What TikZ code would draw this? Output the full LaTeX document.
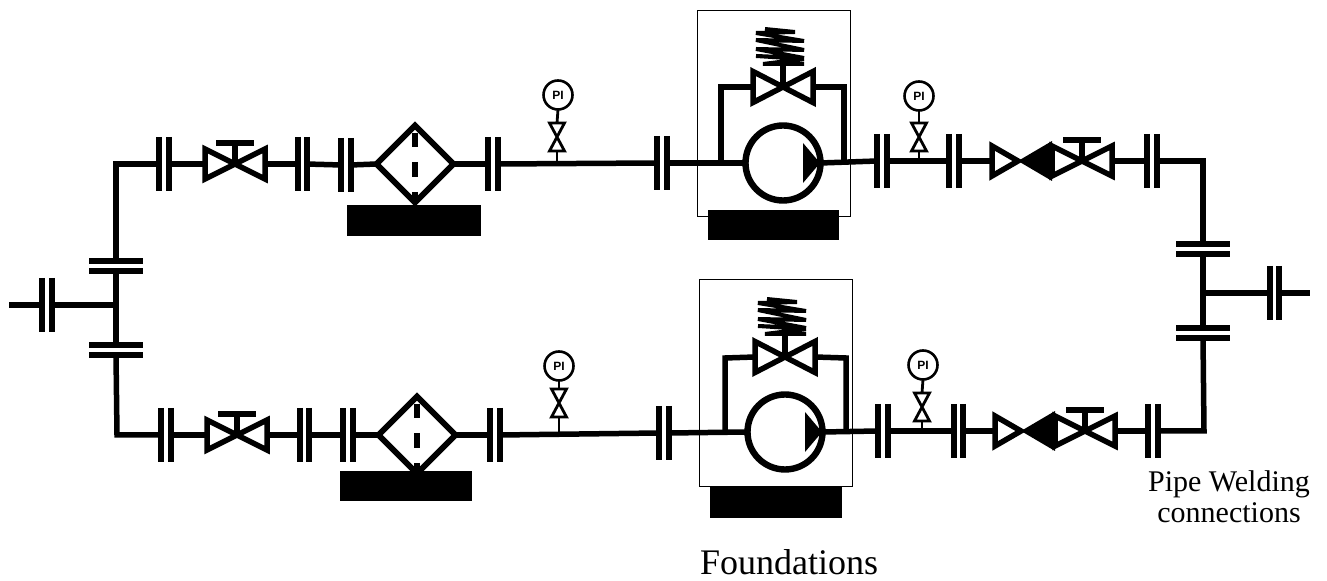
\documentclass[tikz,border=0pt]{standalone}
\usepackage{fontspec}
\setmainfont{Liberation Serif}
\setsansfont{Liberation Sans}
\tikzset{
	pipe/.style={line width=2.75pt},
	tap/.style={line width=1.4pt},
	bar/.style={line width=3pt},
	flange/.pic={
		\draw[bar] (-5,-27) -- (-5,27);
		\draw[bar] (5,-27) -- (5,27);
		\coordinate (-l) at (-5,0);
		\coordinate (-r) at (5,0);
	},
	tightflange/.pic={
		\draw[bar] (-4.5,-27) -- (-4.5,27);
		\draw[bar] (4.5,-27) -- (4.5,27);
		\coordinate (-l) at (-4.5,0);
		\coordinate (-r) at (4.5,0);
	},
	flangeh/.pic={
		\draw[bar] (-27,-5) -- (27,-5);
		\draw[bar] (-27,5) -- (27,5);
		\coordinate (-t) at (0,-5);
		\coordinate (-b) at (0,5);
	},
	gatevalve/.pic={
		\draw[line width=2.75pt] (-30,-15) -- (30,15) -- (30,-15) -- (-30,15) -- cycle;
		\draw[pipe] (0,0) -- (0,-21);
		\draw[pipe] (-19,-21) -- (19,-21);
		\coordinate (-l) at (-30,0);
		\coordinate (-r) at (30,0);
	},
	checkvalve/.pic={
		\fill (-64,0) -- (-30,-20) -- (-30,20) -- cycle;
		\draw[line width=2.75pt] (-64,0) -- (-90,-15) -- (-90,15) -- cycle;
		\coordinate (-l) at (-90,0);
	},
	reliefvalve/.pic={
		\draw[line width=2.75pt] (-30,-15.5) -- (30,15.5) -- (30,-15.5) -- (-30,15.5) -- cycle;
		\draw[pipe] (0,0) -- (0,-23);
		\draw[line width=2pt] (-18,-58) -- (12,-55) -- (-27,-54) -- (21,-46) -- (-27,-47) -- (21,-37) -- (-27,-38) -- (21,-29) -- (-27,-31) -- (21,-28) -- (-20,-23) -- (21,-23);
		\coordinate (-l) at (-30,0);
		\coordinate (-r) at (30,0);
	},
	filterbox/.pic={
		\draw[line width=2.9pt] (-38.5,0) -- (0,-38.5) -- (38.5,0) -- (0,38.5) -- cycle;
		\draw[bar] (0,-31) -- (0,-17);
		\draw[bar] (0,-2) -- (0,13);
		\draw[bar] (0,28) -- (0,38);
		\coordinate (-l) at (-38.5,0);
		\coordinate (-r) at (38.5,0);
	},
	pump/.pic={
		\draw[line width=3.2pt] (0,0) circle (37.5);
		\fill (20,-20) -- (37,0) -- (20,20) -- cycle;
		\coordinate (-l) at (-37.5,0);
		\coordinate (-r) at (37.5,0);
	},
	gauge/.pic={
		\draw[line width=1.3pt] (0,0) circle (14.5);
		\node[font=\sffamily\bfseries\fontsize{6}{6}\selectfont,inner sep=0pt] (-txt) at (0,0) {PI};
		\coordinate (-b) at (0,14.5);
	},
	smallvalve/.pic={
		\draw[line width=1.4pt] (-7.5,-14) -- (7.5,14) -- (-7.5,14) -- (7.5,-14) -- cycle;
		\coordinate (-t) at (0,-14);
		\coordinate (-b) at (0,14);
	}
}

\begin{document}
\begin{tikzpicture}[x=0.5pt,y=-0.5pt]
	\useasboundingbox (0,0) rectangle (1327,581);

	%Cajas de las bombas
	\draw[line width=0.5pt] (697,11) rectangle (850,217);
	\draw[line width=0.5pt] (699,280) rectangle (852,487);

	%Fundaciones
	\fill (347,205) rectangle (481,236);
	\fill (708,210) rectangle (839,240);
	\fill (340,471) rectangle (472,501);
	\fill (710,487) rectangle (842,518);

	%Entrada izquierda
	\coordinate (inL) at (9,305);
	\coordinate (jointL) at (116,305);
	\coordinate (cornerTL) at (116,164);
	\coordinate (cornerBL) at (117,435);
	\pic (f0) at (47,305) {flange};
	\pic (fh1) at (116,266) {flangeh};
	\pic (fh2) at (116,350) {flangeh};
	\draw[pipe] (inL) -- (f0-l);
	\draw[pipe] (f0-r) -- (jointL);
	\draw[pipe] (fh1-b) -- (fh2-t);

	%Linea superior
	\pic (f1) at (164,164) {flange};
	\pic (v1) at (235,164) {gatevalve};
	\pic (f2) at (302,164) {tightflange};
	\pic (f3) at (346,165) {flange};
	\pic (s1) at (415,164) {filterbox};
	\pic (f4) at (493,164) {flange};
	\pic (f5) at (662,163) {flange};
	\pic (p1) at (783,163) {pump};
	\pic (r1) at (783,87) {reliefvalve};
	\pic (f6) at (882,161) {flange};
	\pic (f7) at (954,161) {flange};
	\pic (c1) at (1082,161) {checkvalve};
	\pic (g1) at (1082,161) {gatevalve};
	\pic (f8) at (1152,161) {flange};
	\coordinate (cornerTR) at (1203,161);
	\coordinate (byA1) at (721,163);
	\coordinate (byA2) at (721,87);
	\coordinate (byB1) at (844,162);
	\coordinate (byB2) at (844,87);
	\draw[pipe] (fh1-t) -- (cornerTL) -- (f1-l);
	\draw[pipe] (f1-r) -- (v1-l);
	\draw[pipe] (v1-r) -- (f2-l);
	\draw[pipe] (f2-r) -- (f3-l);
	\draw[pipe] (f3-r) -- (s1-l);
	\draw[pipe] (s1-r) -- (f4-l);
	\draw[pipe] (f4-r) -- (f5-l);
	\draw[pipe] (f5-r) -- (p1-l);
	\draw[pipe] (p1-r) -- (f6-l);
	\draw[pipe] (f6-r) -- (f7-l);
	\draw[pipe] (f7-r) -- (c1-l);
	\draw[pipe] (g1-r) -- (f8-l);
	\draw[pipe] (byA1) -- (byA2) -- (r1-l);
	\draw[pipe] (r1-r) -- (byB2) -- (byB1);

	%Manometros superiores
	\pic (m1) at (558,95) {gauge};
	\pic (sv1) at (557,137) {smallvalve};
	\coordinate (t1) at (557,163);
	\draw[tap] (m1-b) -- (sv1-t);
	\draw[tap] (sv1-b) -- (t1);
	\pic (m2) at (919,96) {gauge};
	\pic (sv2) at (919,137) {smallvalve};
	\coordinate (t2) at (919,161);
	\draw[tap] (m2-b) -- (sv2-t);
	\draw[tap] (sv2-b) -- (t2);

	%Linea inferior
	\pic (f10) at (166,435) {flange};
	\pic (v2) at (237,435) {gatevalve};
	\pic (f11) at (304,435) {tightflange};
	\pic (f12) at (348,435) {flange};
	\pic (s2) at (417,435) {filterbox};
	\pic (f13) at (495,435) {flange};
	\pic (f14) at (664,433) {flange};
	\pic (p2) at (785,432) {pump};
	\pic (r2) at (785,357) {reliefvalve};
	\pic (f15) at (883,431) {flange};
	\pic (f16) at (958,431) {tightflange};
	\pic (c2) at (1085,431) {checkvalve};
	\pic (g2) at (1085,431) {gatevalve};
	\pic (f17) at (1153,431) {flange};
	\coordinate (cornerBR) at (1204,431);
	\coordinate (byC1) at (725,433);
	\coordinate (byC2) at (725,358);
	\coordinate (byD1) at (846,432);
	\coordinate (byD2) at (846,358);
	\draw[pipe] (fh2-b) -- (cornerBL) -- (f10-l);
	\draw[pipe] (f10-r) -- (v2-l);
	\draw[pipe] (v2-r) -- (f11-l);
	\draw[pipe] (f11-r) -- (f12-l);
	\draw[pipe] (f12-r) -- (s2-l);
	\draw[pipe] (s2-r) -- (f13-l);
	\draw[pipe] (f13-r) -- (f14-l);
	\draw[pipe] (f14-r) -- (p2-l);
	\draw[pipe] (p2-r) -- (f15-l);
	\draw[pipe] (f15-r) -- (f16-l);
	\draw[pipe] (f16-r) -- (c2-l);
	\draw[pipe] (g2-r) -- (f17-l);
	\draw[pipe] (byC1) -- (byC2) -- (r2-l);
	\draw[pipe] (r2-r) -- (byD2) -- (byD1);

	%Manometros inferiores
	\pic (m3) at (559,366) {gauge};
	\pic (sv3) at (559,403) {smallvalve};
	\coordinate (t3) at (559,433);
	\draw[tap] (m3-b) -- (sv3-t);
	\draw[tap] (sv3-b) -- (t3);
	\pic (m4) at (923,365) {gauge};
	\pic (sv4) at (922,407) {smallvalve};
	\coordinate (t4) at (922,431);
	\draw[tap] (m4-b) -- (sv4-t);
	\draw[tap] (sv4-b) -- (t4);

	%Salida derecha
	\pic (fh3) at (1203,249) {flangeh};
	\pic (fh4) at (1203,333) {flangeh};
	\pic (f9) at (1274,293) {tightflange};
	\coordinate (jointR) at (1203,293);
	\coordinate (outR) at (1310,293);
	\draw[pipe] (f8-r) -- (cornerTR) -- (fh3-t);
	\draw[pipe] (fh3-b) -- (fh4-t);
	\draw[pipe] (fh4-b) -- (cornerBR) -- (f17-r);
	\draw[pipe] (jointR) -- (f9-l);
	\draw[pipe] (f9-r) -- (outR);

	%Textos
	\node[font=\fontsize{18}{22}\selectfont,anchor=base,inner sep=0pt] (foundations) at (789,575) {Foundations};
	\node[font=\fontsize{15}{15.5}\selectfont,align=center,anchor=base,inner sep=0pt] (welding) at (1229,523) {Pipe Welding\\connections};
\end{tikzpicture}
\end{document}
